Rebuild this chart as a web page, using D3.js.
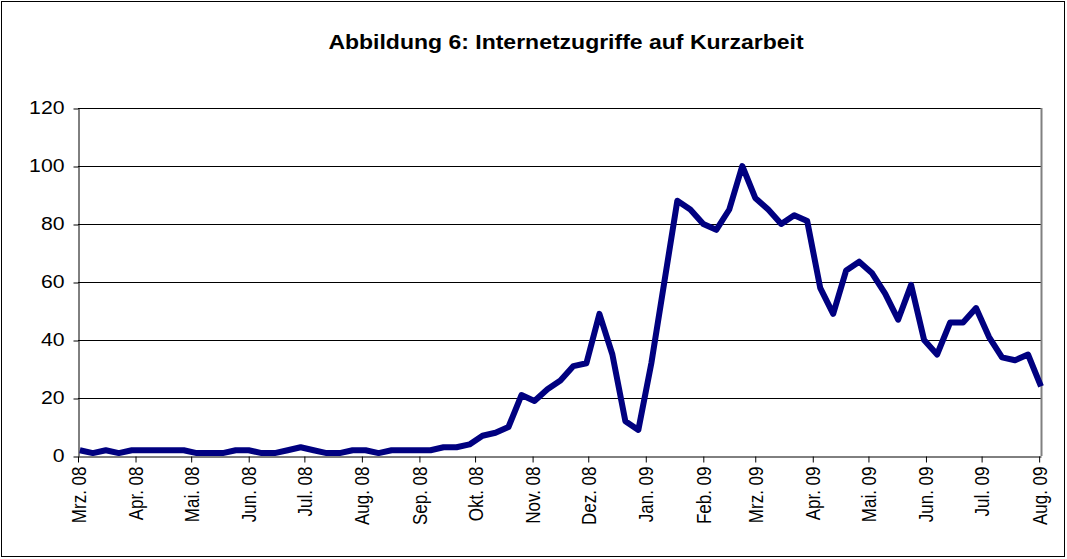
<!DOCTYPE html>
<html>
<head>
<meta charset="utf-8">
<script src="https://cdn.jsdelivr.net/npm/d3@7"></script>
<style>
  body { margin: 0; background: #fff; }
  svg { display: block; font-family: Arial, "Liberation Sans", sans-serif; }
</style>
</head>
<body>
<div id="chart"></div>
<script>
// Abbildung 6 – weekly internet searches for "Kurzarbeit"

const title = 'Abbildung 6: Internetzugriffe auf Kurzarbeit';

// week starting dates (one point per week)
const weeks = [
    '2008-03-02', '2008-03-09', '2008-03-16', '2008-03-23', '2008-03-30',
    '2008-04-06', '2008-04-13', '2008-04-20', '2008-04-27',
    '2008-05-04', '2008-05-11', '2008-05-18', '2008-05-25',
    '2008-06-01', '2008-06-08', '2008-06-15', '2008-06-22', '2008-06-29',
    '2008-07-06', '2008-07-13', '2008-07-20', '2008-07-27',
    '2008-08-03', '2008-08-10', '2008-08-17', '2008-08-24', '2008-08-31',
    '2008-09-07', '2008-09-14', '2008-09-21', '2008-09-28',
    '2008-10-05', '2008-10-12', '2008-10-19', '2008-10-26',
    '2008-11-02', '2008-11-09', '2008-11-16', '2008-11-23', '2008-11-30',
    '2008-12-07', '2008-12-14', '2008-12-21', '2008-12-28',
    '2009-01-04', '2009-01-11', '2009-01-18', '2009-01-25',
    '2009-02-01', '2009-02-08', '2009-02-15', '2009-02-22',
    '2009-03-01', '2009-03-08', '2009-03-15', '2009-03-22', '2009-03-29',
    '2009-04-05', '2009-04-12', '2009-04-19', '2009-04-26',
    '2009-05-03', '2009-05-10', '2009-05-17', '2009-05-24', '2009-05-31',
    '2009-06-07', '2009-06-14', '2009-06-21', '2009-06-28',
    '2009-07-05', '2009-07-12', '2009-07-19', '2009-07-26',
    '2009-08-02'
];

const values = [
    2, 1, 2, 1, 2,
    2, 2, 2, 2,
    1, 1, 1, 2,
    2, 1, 1, 2, 3,
    2, 1, 1, 2,
    2, 1, 2, 2, 2,
    2, 3, 3, 4,
    7, 8, 10, 21,
    19, 23, 26, 31, 32,
    49, 35, 12, 9,
    32, 60, 88, 85,
    80, 78, 85, 100,
    89, 85, 80, 83, 81,
    58, 49, 64, 67,
    63, 56, 47, 59, 40,
    35, 46, 46, 51,
    41, 34, 33, 35,
    24
];

// month ticks on the x axis
const monthTicks = [
    '2008-03-01', '2008-04-01', '2008-05-01', '2008-06-01', '2008-07-01', '2008-08-01',
    '2008-09-01', '2008-10-01', '2008-11-01', '2008-12-01', '2009-01-01', '2009-02-01',
    '2009-03-01', '2009-04-01', '2009-05-01', '2009-06-01', '2009-07-01', '2009-08-01'
];
const monthLabels = [
    'Mrz. 08', 'Apr. 08', 'Mai. 08', 'Jun. 08', 'Jul. 08', 'Aug. 08',
    'Sep. 08', 'Okt. 08', 'Nov. 08', 'Dez. 08', 'Jan. 09', 'Feb. 09',
    'Mrz. 09', 'Apr. 09', 'Mai. 09', 'Jun. 09', 'Jul. 09', 'Aug. 09'
];

const yTicks = [0, 20, 40, 60, 80, 100, 120];

const width = 1067, height = 559;
const plot = { left: 78, right: 1041, top: 108, bottom: 456 };
const stretch = 1.18; // the original text is a little wider than plain Arial

const parse = d3.utcParse('%Y-%m-%d');
const data = weeks.map((w, i) => ({ date: parse(w), value: values[i] }));
const tickDates = monthTicks.map(parse);

const x = d3.scaleUtc()
    .domain([parse('2008-03-01'), parse('2009-08-02')])
    .range([plot.left, plot.right]);

const y = d3.scaleLinear()
    .domain([0, 120])
    .range([plot.bottom, plot.top]);

const svg = d3.select('#chart')
    .append('svg')
    .attr('width', width)
    .attr('height', height);

// outer frame
svg.append('rect')
    .attr('x', 1.5).attr('y', 1.5)
    .attr('width', width - 4).attr('height', height - 4)
    .attr('fill', '#fff')
    .attr('stroke', '#000')
    .attr('stroke-width', 1);

// title
svg.append('g')
    .attr('transform', `translate(566,49) scale(${stretch},1)`)
    .append('text')
    .attr('text-anchor', 'middle')
    .attr('font-size', '19.5px')
    .attr('font-weight', 'bold')
    .text(title);

// gridlines
svg.append('g')
    .selectAll('line')
    .data(yTicks.filter(t => t > 0))
    .join('line')
    .attr('x1', plot.left).attr('x2', plot.right)
    .attr('y1', d => Math.round(y(d)) + 0.5)
    .attr('y2', d => Math.round(y(d)) + 0.5)
    .attr('stroke', '#000')
    .attr('stroke-width', 1);

// right border of plot area
svg.append('line')
    .attr('x1', plot.right + 0.5).attr('x2', plot.right + 0.5)
    .attr('y1', plot.top).attr('y2', plot.bottom)
    .attr('stroke', '#808080')
    .attr('stroke-width', 2);

// y axis
const yAxis = svg.append('g')
    .attr('transform', `translate(${plot.left + 0.5},0)`)
    .call(d3.axisLeft(y).tickValues(yTicks).tickSize(5).tickSizeOuter(0));
yAxis.select('.domain').attr('stroke', '#000');
yAxis.selectAll('line').attr('stroke', '#000').attr('transform', 'translate(0,0.5)');
yAxis.selectAll('text')
    .attr('font-size', '18px')
    .attr('font-family', 'Arial, "Liberation Sans", sans-serif')
    .attr('fill', '#000')
    .attr('x', 0)
    .attr('transform', `translate(-14,0) scale(${stretch},1)`);

// x axis
const xAxis = svg.append('g')
    .attr('transform', `translate(0,${plot.bottom + 0.5})`)
    .call(d3.axisBottom(x)
        .tickValues(tickDates)
        .tickFormat((d, i) => monthLabels[i])
        .tickSize(6)
        .tickSizeOuter(0));
xAxis.select('.domain').attr('stroke', '#000');
xAxis.selectAll('line').attr('stroke', '#000');
xAxis.selectAll('text')
    .attr('font-size', '17px')
    .attr('font-family', 'Arial, "Liberation Sans", sans-serif')
    .attr('fill', '#000')
    .attr('text-anchor', 'end')
    .attr('transform', `rotate(-90) scale(1,${stretch})`)
    .attr('x', -10)
    .attr('y', 0)
    .attr('dy', '0.35em');

// data line
const line = d3.line()
    .x(d => x(d.date))
    .y(d => y(d.value));

svg.append('path')
    .datum(data)
    .attr('d', line)
    .attr('fill', 'none')
    .attr('stroke', '#000080')
    .attr('stroke-width', 6)
    .attr('stroke-linejoin', 'round')
    .attr('stroke-linecap', 'butt');
</script>
</body>
</html>
